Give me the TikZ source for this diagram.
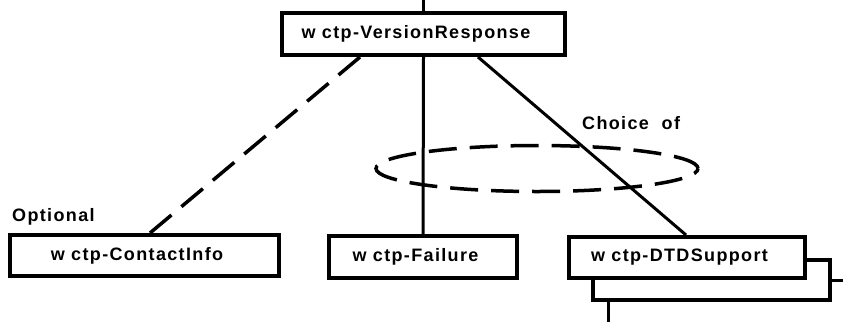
\documentclass[tikz,border=0pt]{standalone}
\usepackage{fontspec}
\setmainfont{Liberation Sans}[LetterSpace=7.5]
\usetikzlibrary{calc,shapes.geometric}

\tikzset{
  element/.style={draw, line width=4pt, fill=white, inner sep=0pt,
    font=\fontsize{18}{21}\selectfont\bfseries,
    execute at end node={\hspace*{15pt}}},
  link/.style={line width=3pt},
  optlink/.style={line width=3.5pt, dash pattern=on 28pt off 13pt},
  label/.style={inner sep=0pt, font=\fontsize{18}{21}\selectfont\bfseries}
}

\begin{document}
\begin{tikzpicture}[x=1pt, y=-1pt]
  \useasboundingbox (0,0) rectangle (843,322);

  % root element
  \node[element, minimum width=283pt, minimum height=42pt] (root) at (423.5,34) {w ctp-VersionResponse};
  \coordinate (above) at (423.5,0);
  \draw[link] (above) -- (root.north);

  % repeated DTDSupport: the back copy is drawn first
  \node[element, minimum width=237pt, minimum height=40pt] (dtdback) at (711.5,280) {};
  \coordinate (dtdright) at (843,280);
  \coordinate (dtddown) at (608,322);
  \draw[link] (dtdback.east) -- (dtdright);
  \draw[link] (dtdback.south -| dtddown) -- (dtddown);

  % child elements
  \node[element, minimum width=269pt, minimum height=41pt] (contact) at (144.5,255.5) {w ctp-ContactInfo};
  \node[element, minimum width=188pt, minimum height=42pt] (failure) at (423,257) {w ctp-Failure};
  \node[element, minimum width=236pt, minimum height=41pt] (dtd) at (687,257.5) {w ctp-DTDSupport};

  % connectors
  \draw[optlink] ([xshift=-63.5pt]root.south) -- ([xshift=5.5pt]contact.north);
  \draw[link] (root.south) -- (failure.north);
  \draw[link] ([xshift=54.5pt]root.south) -- ([xshift=-1pt]dtd.north);

  % choice group
  \node[draw, optlink, ellipse, minimum width=322pt, minimum height=46pt, inner sep=0pt] (choice) at (537,168.5) {};
  \node[label, anchor=west] (choicelbl) at (582,123) {Choice\ \ of};
  \node[label, anchor=west] (optlbl) at (12,217) {Optional};
\end{tikzpicture}
\end{document}
